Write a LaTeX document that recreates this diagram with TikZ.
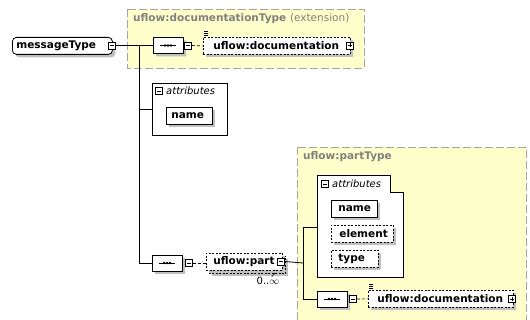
\documentclass[tikz,border=0pt]{standalone}
\usepackage{fontspec}
\setmainfont{DejaVu Sans}
\usetikzlibrary{shapes.misc,shadows}

\definecolor{boxyellow}{RGB}{255,255,204}
\definecolor{framegray}{RGB}{165,165,165}
\definecolor{titlegray}{RGB}{128,128,128}
\definecolor{shadowgray}{RGB}{192,192,192}

\begin{document}
\begin{tikzpicture}[x=1pt,y=-1pt,
  font=\fontsize{10.5}{12}\selectfont\bfseries,
  ext/.style={fill=boxyellow, draw=framegray, dash pattern=on 8pt off 3pt, line width=0.9pt},
  title/.style={anchor=west, inner sep=0pt, text=titlegray},
  shade/.style={drop shadow={shadow xshift=3pt, shadow yshift=-3pt, fill=shadowgray, opacity=1}},
  elem/.style={draw, fill=white, line width=0.8pt, shade, inner ysep=0pt,
    minimum height=17pt, anchor=north west, align=left},
  optelem/.style={elem, dash pattern=on 2pt off 1.5pt},
  seqbox/.style={chamfered rectangle, chamfered rectangle xsep=5pt, draw, fill=white,
    line width=0.8pt, shade, minimum width=30pt, minimum height=16pt, inner sep=0pt},
  pm/.style={draw, fill=white, line width=0.6pt, minimum size=7pt, inner sep=0pt,
    path picture={\draw[line width=0.6pt] ([xshift=-2pt]path picture bounding box.center)
      -- ([xshift=2pt]path picture bounding box.center);}},
  pmplus/.style={pm, append after command={}, path picture={
    \draw[line width=0.6pt] ([xshift=-2pt]path picture bounding box.center)
      -- ([xshift=2pt]path picture bounding box.center);
    \draw[line width=0.6pt] ([yshift=-2pt]path picture bounding box.center)
      -- ([yshift=2pt]path picture bounding box.center);}},
  attrlabel/.style={anchor=west, inner sep=0pt, font=\fontsize{10}{12}\selectfont\itshape},
  conn/.style={line width=0.8pt},
  optconn/.style={line width=0.6pt, dash pattern=on 3pt off 2pt},
  docmark/.style={line width=0.6pt}
]
\clip (0,0) rectangle (530,320);

% extension frames
\draw[ext] (127,9) rectangle (364,68);
\draw[ext] (297,147) rectangle (526,335);
\node[title] (t1) at (133,19) {uflow:documentationType {\mdseries (extension)}};
\node[title] (t2) at (303,157) {uflow:partType};

% root element
\node[elem, rounded corners=4pt, inner xsep=4pt, text width=92pt] (msg) at (12,37) {messageType};
\node[pm] (msgm) at (112,45.5) {};

% inherited sequence
\node[seqbox] (seq1) at (168,45.5) {};
\node[pm] (seq1m) at (188,45.5) {};
\node[optelem, inner xsep=10pt, text width=127pt] (doc1) at (203,37) {uflow:documentation};
\node[pmplus] (doc1p) at (350,45.5) {};

% attributes of messageType
\node[draw, fill=white, line width=0.8pt, anchor=north west, minimum width=75pt,
  minimum height=52pt, inner sep=0pt] (attr1) at (152,83) {};
\node[pm] (attr1m) at (159,91) {};
\node[attrlabel] (attr1l) at (166,91) {attributes};
\node[elem, inner xsep=5pt, text width=36pt] (name1) at (166,107) {name};

% part sequence
\node[seqbox] (seq2) at (167,263) {};
\node[pm] (seq2m) at (189,263) {};
\node[optelem, inner xsep=7pt, text width=62pt, fill=none, draw=none, shade] (partback) at (209,256) {\phantom{uflow:part}};
\draw[dash pattern=on 2pt off 1.5pt, line width=0.8pt] (partback.north west) rectangle (partback.south east);
\node[optelem, inner xsep=7pt, text width=62pt] (part) at (206,253) {uflow:part};
\node[pm] (partm) at (281,261.5) {};
\node[anchor=north, inner sep=0pt, font=\fontsize{10}{12}\selectfont] (mult) at (268,277) {0..\raisebox{0pt}{$\infty$}};

% attributes of partType
\coordinate (attr2w) at (317,227);
\draw[line width=0.8pt, fill=white] (317,175) -- (390,175) -- (390,192) -- (403,192)
  -- (403,277) -- (317,277) -- cycle;
\node[pm] (attr2m) at (325,184) {};
\node[attrlabel] (attr2l) at (332,184) {attributes};
\node[elem, inner xsep=7pt, text width=32pt] (name2) at (331,200) {name};
\node[optelem, inner xsep=8pt, text width=46pt] (elm2) at (331,225) {element};
\node[optelem, inner xsep=7pt, text width=33pt] (type2) at (331,250) {type};

% sequence of partType
\node[seqbox] (seq3) at (332,299) {};
\node[pm] (seq3m) at (353,299) {};
\node[optelem, inner xsep=9pt, text width=127pt] (doc2) at (368,290) {uflow:documentation};
\node[pmplus] (doc2p) at (512,299) {};

% documentation marks
\foreach \nd in {doc1, doc2} {
  \draw[docmark] ([xshift=1pt,yshift=1.5pt]\nd.north west) -- ++(4,0)
    ([xshift=1pt,yshift=3.5pt]\nd.north west) -- ++(4,0)
    ([xshift=1pt,yshift=5.5pt]\nd.north west) -- ++(4,0);
}

% sequence glyphs
\foreach \sq in {seq1, seq2, seq3} {
  \draw[line width=0.8pt] ([xshift=-8pt]\sq.center) -- ([xshift=8pt]\sq.center);
  \foreach \dx in {-3,0,3}
    \fill ([xshift=\dx pt]\sq.center) circle (1.3pt);
}

% connectors
\coordinate (j1) at (139,45.5);
\coordinate (j2) at (303,263);
\draw[conn] (msgm.east) -- (seq1.west);
\draw[conn] (j1) |- (seq2.west);
\draw[conn] (j1 |- attr1.west) -- (attr1.west);
\draw[optconn] (seq1m.east) -- (doc1.west);
\draw[optconn] (seq2m.east) -- (part.west |- seq2m);
\draw[conn] (partm.east) -- (j2);
\draw[conn] (j2 |- attr2w) -- (attr2w);
\draw[conn] (j2 |- attr2w) |- (seq3.west);
\draw[optconn] (seq3m.east) -- (doc2.west);
\draw[line width=0.5pt] (part.south east) ++(-8,2) -- ++(-3,4);
\end{tikzpicture}
\end{document}
